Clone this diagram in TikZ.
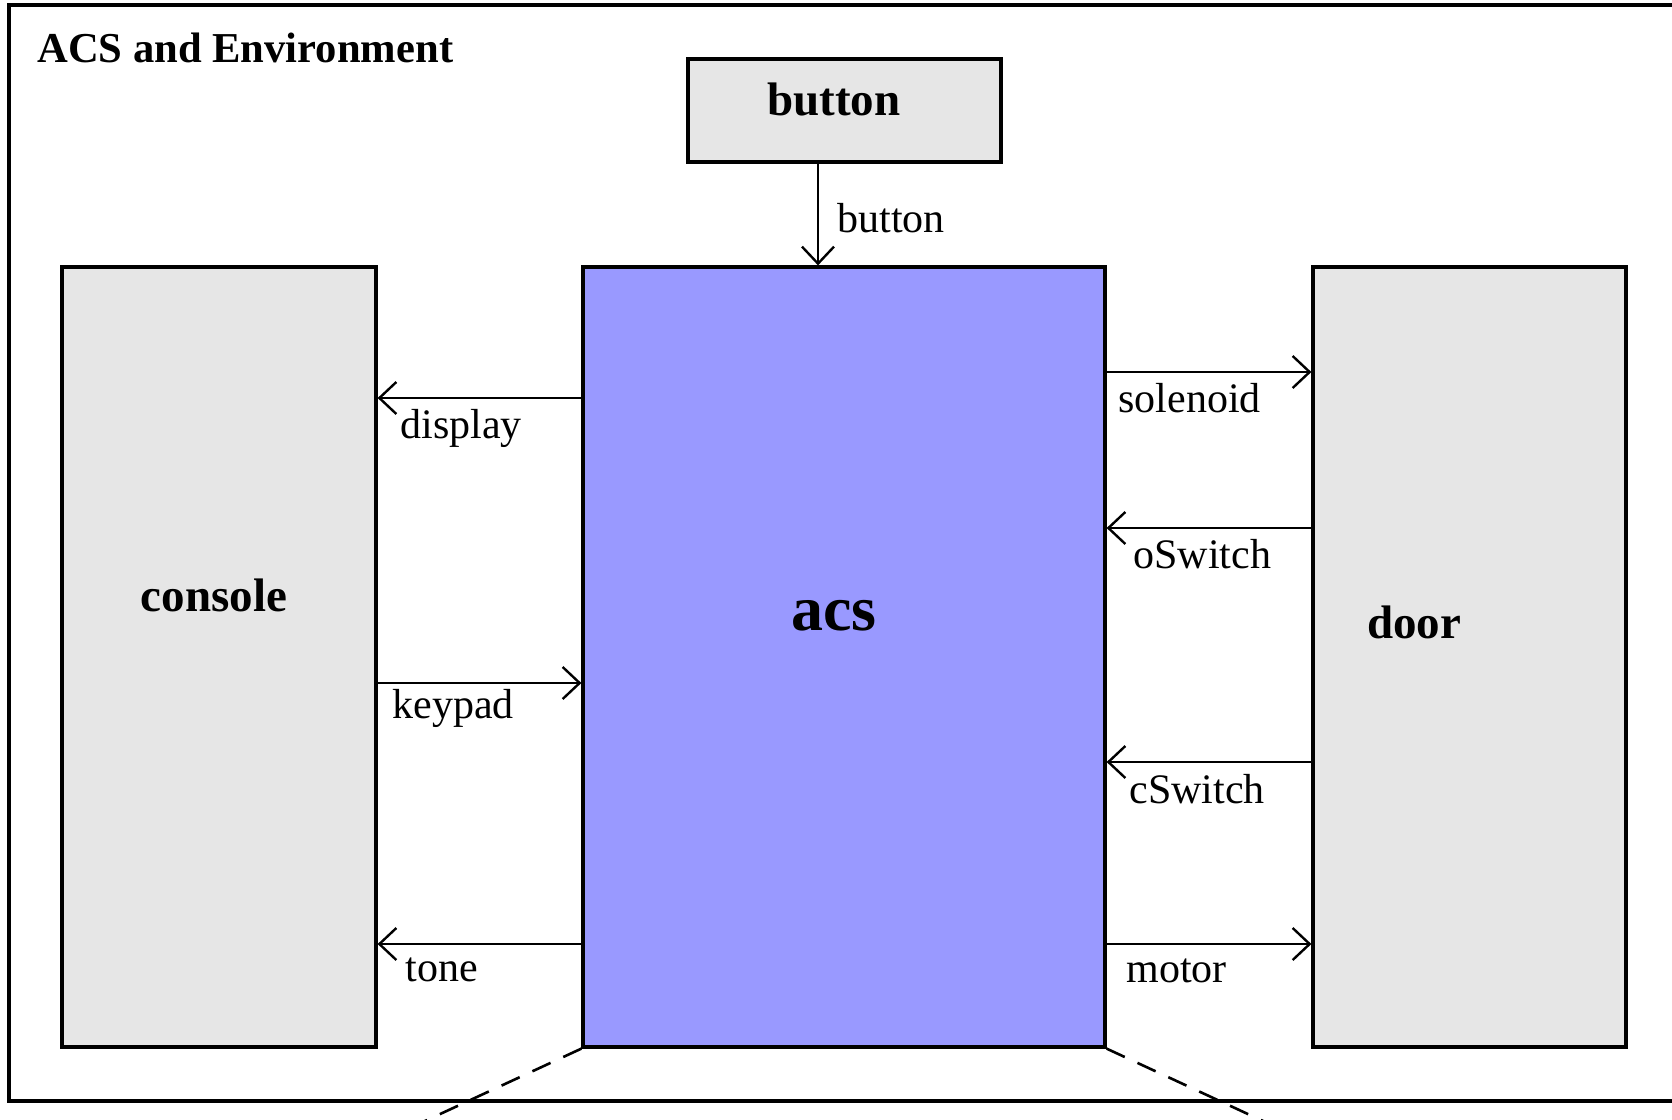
\documentclass[tikz,border=0pt]{standalone}
\usepackage{fontspec}
\setmainfont{Liberation Serif}
\usepackage{tikz}
\usetikzlibrary{positioning}
\usetikzlibrary {arrows.meta}
\definecolor{envgrey}{HTML}{E6E6E6}
\definecolor{acsblue}{HTML}{9999FF}
\tikzset{
  envbox/.style= {
    rectangle,
    draw = black,
    fill = envgrey,
    line width = 1.6pt,
    inner sep = 0pt
  },
  acsbox/.style= {
    envbox,
    fill = acsblue
  },
  boxname/.style= {
    anchor = base,
    inner sep = 0pt,
    font = \bfseries\fontsize{23.5}{28}\selectfont
  },
  flowlabel/.style= {
    anchor = base west,
    inner sep = 0pt,
    font = \fontsize{21}{25}\selectfont
  },
  flow/.style= {
    line width = 1.4pt,
    -{Straight Barb[length=8.5pt,width=16pt,line width=1.2pt]}
  }
}
\begin{document}
\begin{tikzpicture}[x=0.5pt,y=-0.5pt]
  \clip (0,0) rectangle (1672,1120);

  \node[draw,line width=1.6pt,minimum width=845.5pt,minimum height=548pt,inner sep=0pt] (frame) at (854.5,553) {};
  \node[anchor=base west,inner sep=0pt,font=\bfseries\fontsize{21.3}{26}\selectfont] (title) at (37,62) {ACS and Environment};

  \node[envbox,minimum width=156.5pt,minimum height=51.5pt] (button) at (844.5,110.5) {};
  \node[envbox,minimum width=157pt,minimum height=390pt] (console) at (219,657) {};
  \node[acsbox,minimum width=261pt,minimum height=390pt] (acs) at (844,657) {};
  \node[envbox,minimum width=156.5pt,minimum height=390pt] (door) at (1469.5,657) {};

  \node[boxname] (buttonname) at (834,115) {button};
  \node[boxname] (consolename) at (214,611) {console};
  \node[boxname] (doorname) at (1414,638) {door};
  \node[boxname,font=\bfseries\fontsize{32}{38}\selectfont] (acsname) at (834,630) {acs};

  \draw[flow] (button.south -| 818,0) -- (acs.north -| 818,0);
  \node[flowlabel] (lbutton) at (837,232) {button};

  \draw[flow] (acs.west |- 0,398) -- (console.east |- 0,398);
  \node[flowlabel] (ldisplay) at (400,438) {display};
  \draw[flow] (console.east |- 0,683) -- (acs.west |- 0,683);
  \node[flowlabel] (lkeypad) at (392,718) {keypad};
  \draw[flow] (acs.west |- 0,944) -- (console.east |- 0,944);
  \node[flowlabel] (ltone) at (405,981) {tone};

  \draw[flow] (acs.east |- 0,372) -- (door.west |- 0,372);
  \node[flowlabel] (lsolenoid) at (1118,412) {solenoid};
  \draw[flow] (door.west |- 0,528) -- (acs.east |- 0,528);
  \node[flowlabel] (loswitch) at (1133,568) {oSwitch};
  \draw[flow] (door.west |- 0,762) -- (acs.east |- 0,762);
  \node[flowlabel] (lcswitch) at (1129,803) {cSwitch};
  \draw[flow] (acs.east |- 0,944) -- (door.west |- 0,944);
  \node[flowlabel] (lmotor) at (1126,982) {motor};

  \coordinate (zoomL) at (384,1140);
  \coordinate (zoomR) at (1304,1140);
  \draw[line width=1.3pt,dash pattern=on 10pt off 7pt] (acs.south west) -- (zoomL);
  \draw[line width=1.3pt,dash pattern=on 10pt off 7pt] (acs.south east) -- (zoomR);

\end{tikzpicture}
\end{document}
